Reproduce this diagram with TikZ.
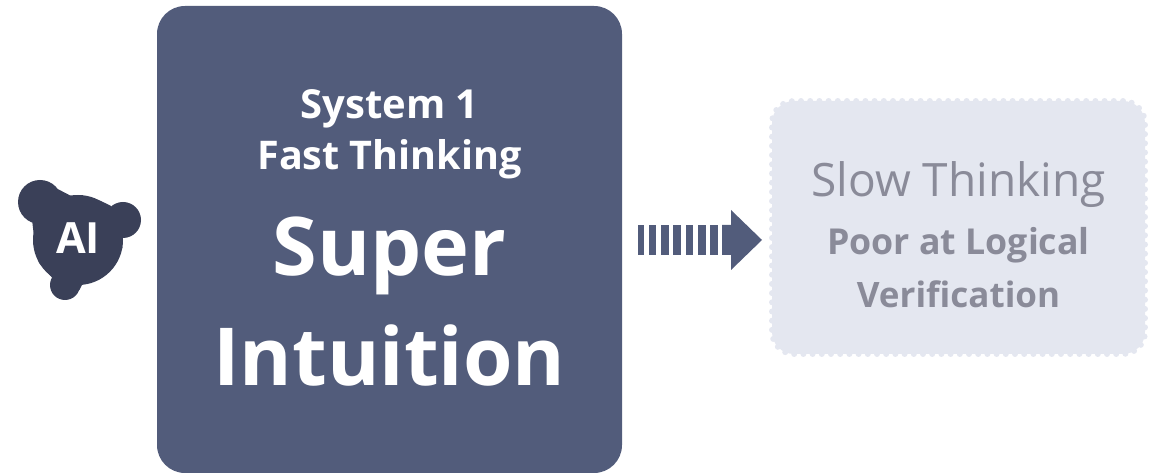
\documentclass[tikz,border=0pt]{standalone}
\usepackage{fontspec}
\setmainfont{Open Sans}
\usepackage{xcolor}
\usepackage{tikz}
\usetikzlibrary{calc, positioning}
\definecolor{mainblue}{HTML}{525C7B}
\definecolor{icondark}{HTML}{3A4058}
\definecolor{palebox}{HTML}{E4E7F0}
\definecolor{paletext}{HTML}{8A8B99}
\tikzset{
    mainnode/.style = {draw=none, fill=mainblue, rectangle, rounded corners=28pt, inner sep = 0pt, node distance=0pt,
      minimum width=465pt, minimum height=467pt},
    palenode/.style = {rectangle, fill=palebox, draw=palebox, line width=6pt, line cap=round, dash pattern=on 0pt off 9.2pt,
      rounded corners=22pt, inner sep = 0pt, node distance=0pt, minimum width=373pt, minimum height=253pt},
    lobenode/.style = {circle, fill=icondark, draw=none, inner sep = 0pt, node distance=0pt},
    whitetext/.style = {draw=none, fill=none, rectangle, inner sep = 0pt, node distance=0pt, text=white, font=\bfseries},
    greytext/.style = {draw=none, fill=none, rectangle, inner sep = 0pt, node distance=0pt, text=paletext},
    stripe/.style = {fill=mainblue, draw=none},
    every text node part/.style={align=center}
}

\begin{document}
\begin{tikzpicture}[x=1pt, y=1pt]
    \useasboundingbox (0,0) rectangle (1166,473);

    \node [name=main, mainnode] at (389.5,233.5) {};
    \node [name=pale, palenode] at (958.5,245.5) {};

    % icon
    \node [name=core, lobenode, minimum size=90pt] at (78,233) {};
    \node [name=lobeA, lobenode, minimum size=44pt, left of = core, xshift=-38pt, yshift=38pt] {};
    \node [name=lobeB, lobenode, minimum size=36pt, right of = core, xshift=45pt, yshift=20pt] {};
    \node [name=lobeC, lobenode, minimum size=30pt, below of = core, xshift=-13pt, yshift=-45pt] {};
    \fill [icondark] (lobeA.35) -- (core.100) -- (core.60) -- (lobeB.130) -- (lobeB.-100) -- (core.-10)
        -- (core.-85) -- (lobeC.-20) -- (lobeC.150) -- (core.-150) -- (core.170) -- (lobeA.-110) -- cycle;
    \node [name=ailabel, whitetext, font=\fontsize{43pt}{48pt}\bfseries, above of = core, xshift=0pt, yshift=2pt] {AI};

    % arrow
    \foreach \i/\a/\b in {1/638/644, 2/648.5/656, 3/661/669, 4/673/681, 5/685.5/693, 6/698/705.5, 7/710/717.5}
        \fill [stripe] (\a,218) rectangle (\b,248);
    \fill [mainblue] (722,218) -- (731,218) -- (731,203) -- (762,233) -- (731,263) -- (731,248) -- (722,248) -- cycle;

    % main box text
    \node [name=systemone, whitetext, font=\fontsize{40pt}{46pt}\bfseries, above of = main, yshift=131pt] {System 1};
    \node [name=fastthink, whitetext, font=\fontsize{39.5pt}{46pt}\bfseries, above of = main, yshift=80pt] {Fast Thinking};
    \node [name=super, whitetext, font=\fontsize{81pt}{90pt}\bfseries, above of = main, yshift=-16pt] {Super};
    \node [name=intuition, whitetext, font=\fontsize{80pt}{90pt}\bfseries, below of = main, yshift=-116pt] {Intuition};

    % pale box text
    \node [name=slowthink, greytext, font=\fontsize{46pt}{52pt}\selectfont, above of = pale, yshift=43pt] {Slow Thinking};
    \node [name=poorat, greytext, font=\fontsize{35.7pt}{42pt}\bfseries, above of = pale, yshift=-18pt] {Poor at Logical};
    \node [name=verify, greytext, font=\fontsize{35pt}{42pt}\bfseries, below of = pale, yshift=-67pt] {Verification};
\end{tikzpicture}
\end{document}
